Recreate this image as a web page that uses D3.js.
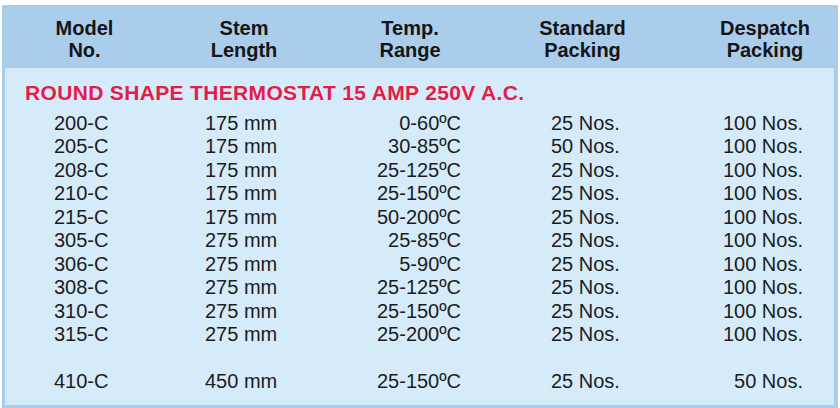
<!DOCTYPE html>
<html>
<head>
<meta charset="utf-8">
<script src="https://cdn.jsdelivr.net/npm/d3@7"></script>
<style>
  body { margin: 0; background: #fff; }
  svg { display: block; font-family: "Liberation Sans", Arial, sans-serif; }
</style>
</head>
<body>
<svg id="thermostat-table" width="840" height="408"></svg>
<script>
// Inputs

const headerTop = ["Model", "Stem", "Temp.", "Standard", "Despatch"];
const headerBottom = ["No.", "Length", "Range", "Packing", "Packing"];
const sectionTitle = "ROUND SHAPE THERMOSTAT 15 AMP 250V A.C.";

const models = ["200-C", "205-C", "208-C", "210-C", "215-C", "305-C", "306-C", "308-C", "310-C", "315-C", "410-C"];
const stemLengths = ["175 mm", "175 mm", "175 mm", "175 mm", "175 mm", "275 mm", "275 mm", "275 mm", "275 mm", "275 mm", "450 mm"];
const tempRanges = ["0-60ºC", "30-85ºC", "25-125ºC", "25-150ºC", "50-200ºC", "25-85ºC", "5-90ºC", "25-125ºC", "25-150ºC", "25-200ºC", "25-150ºC"];
const standardPacking = ["25 Nos.", "50 Nos.", "25 Nos.", "25 Nos.", "25 Nos.", "25 Nos.", "25 Nos.", "25 Nos.", "25 Nos.", "25 Nos.", "25 Nos."];
const despatchPacking = ["100 Nos.", "100 Nos.", "100 Nos.", "100 Nos.", "100 Nos.", "100 Nos.", "100 Nos.", "100 Nos.", "100 Nos.", "100 Nos.", "50 Nos."];
// row slot of each line (410-C sits after a blank slot)
const rowSlots = [0, 1, 2, 3, 4, 5, 6, 7, 8, 9, 11];

const drawTable = () => {
  const svg = d3.select("#thermostat-table");

  // Frame + Panels
  svg.append("rect")
    .attr("x", 2).attr("y", 5)
    .attr("width", 836).attr("height", 403)
    .style("fill", "#a9cdeb");

  svg.append("rect")
    .attr("x", 5).attr("y", 68)
    .attr("width", 829).attr("height", 337)
    .style("fill", "#d6ebf9");

  // Column layout
  const columns = [
    { values: models, x: 54, anchor: "start", head: 84.5 },
    { values: stemLengths, x: 205, anchor: "start", head: 244 },
    { values: tempRanges, x: 461, anchor: "end", head: 410 },
    { values: standardPacking, x: 551, anchor: "start", head: 582.5 },
    { values: despatchPacking, x: 803, anchor: "end", head: 765 },
  ];

  // Create Row Scale (baseline of each row)
  const yScale = d3.scaleLinear().domain([0, 11]).range([130, 388]);

  // Draw Header
  const headGroup = svg.append("g").classed("header-group", true);
  headGroup.selectAll("text.head-top")
    .data(headerTop)
    .join("text")
    .classed("head-top", true)
    .attr("x", (d, i) => columns[i].head)
    .attr("y", 35)
    .attr("text-anchor", "middle")
    .style("font-size", "20px")
    .style("font-weight", "bold")
    .style("fill", "#151515")
    .text((d) => d);

  headGroup.selectAll("text.head-bottom")
    .data(headerBottom)
    .join("text")
    .classed("head-bottom", true)
    .attr("x", (d, i) => columns[i].head)
    .attr("y", 57)
    .attr("text-anchor", "middle")
    .style("font-size", "20px")
    .style("font-weight", "bold")
    .style("fill", "#151515")
    .text((d) => d);

  // Draw Section Title
  svg.append("text")
    .attr("x", 25)
    .attr("y", 100)
    .attr("textLength", 499)
    .attr("lengthAdjust", "spacing")
    .style("font-size", "21px")
    .style("font-weight", "bold")
    .style("fill", "#e31c48")
    .text(sectionTitle);

  // Draw Cells
  columns.forEach((col, c) => {
    svg.append("g")
      .classed("col-" + c, true)
      .selectAll("text")
      .data(col.values)
      .join("text")
      .attr("x", col.x)
      .attr("y", (d, i) => yScale(rowSlots[i]))
      .attr("text-anchor", col.anchor)
      .style("font-size", "20px")
      .style("fill", "#1c1c1c")
      .text((d) => d);
  });
};

drawTable();
</script>
</body>
</html>
